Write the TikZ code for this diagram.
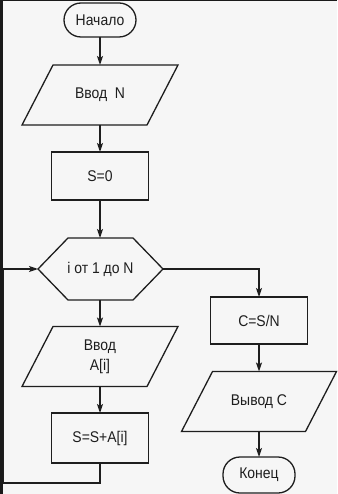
\documentclass[tikz,border=0pt]{standalone}
\usepackage{fontspec}
\setmainfont{Liberation Sans}[FakeStretch=0.9]
\usetikzlibrary{arrows.meta,calc}
\definecolor{bg}{HTML}{F6F6F6}
\definecolor{ink}{HTML}{1E1E1E}
\definecolor{framec}{HTML}{1A1A1A}
\begin{document}
\begin{tikzpicture}[x=1pt,y=-1pt,
  every node/.style={font=\fontsize{15.5}{20}\selectfont, text=ink, inner sep=0pt, outer sep=0pt, align=center},
  line/.style={draw=ink, line width=1.3pt},
  box/.style={line, rectangle, minimum width=97pt},
  term/.style={line, rectangle, rounded corners=17pt, minimum width=72pt},
  ghost/.style={rectangle, draw=none, minimum width=156pt, minimum height=60pt},
  hexbox/.style={rectangle, draw=none, minimum width=125pt, minimum height=62pt},
  arr/.style={line, -{Stealth[length=9pt,width=6pt,inset=2pt]}}
]
\fill[bg] (0,0) rectangle (337,494);
\useasboundingbox (0,0) rectangle (337,494);
\fill[framec] (0,0) rectangle (2.5,494);
\fill[framec] (0,0) rectangle (337,1.5);

% nodes
\node[term, minimum height=34pt] (start) at (100,20) {Начало};
\node[ghost] (inN) at (100,95) {Ввод\ \ N};
\node[box, minimum height=48pt] (s0) at (100,176) {S=0};
\node[hexbox] (hex) at (100.5,269) {i от 1 до N};
\node[ghost] (inA) at (100,356.5) {Ввод\\A[i]};
\node[box, minimum height=50pt] (sum) at (100,438) {S=S+A[i]};
\node[box, minimum height=47pt] (cdiv) at (259,320.5) {C=S/N};
\node[ghost, minimum width=155pt] (outC) at (259,401.5) {Вывод C};
\node[term, minimum height=36pt] (fin) at (259,475) {Конец};
\coordinate (lb) at (3.5,483);

% outlines of parallelograms and hexagon
\foreach \n in {inN,inA,outC}{
  \draw[line, line join=miter] ($(\n.north west)+(31,0)$) -- (\n.north east) -- ($(\n.south east)-(31,0)$) -- (\n.south west) -- cycle;
}
\draw[line] (hex.west) -- ($(hex.north west)+(30,0)$) -- ($(hex.north east)-(30,0)$) -- (hex.east) -- ($(hex.south east)-(30,0)$) -- ($(hex.south west)+(30,0)$) -- cycle;

% connectors
\draw[arr] (start.south) -- (inN.north);
\draw[arr] (inN.south) -- (s0.north);
\draw[arr] (s0.south) -- (hex.north -| s0.south);
\draw[arr] (hex.south -| inA.north) -- (inA.north);
\draw[arr] (inA.south) -- (sum.north);
\draw[arr] (sum.south) |- (lb) |- (hex.west);
\draw[arr] (hex.east) -| (cdiv.north);
\draw[arr] (cdiv.south) -- (outC.north);
\draw[arr] (outC.south) -- (fin.north);
\end{tikzpicture}
\end{document}
